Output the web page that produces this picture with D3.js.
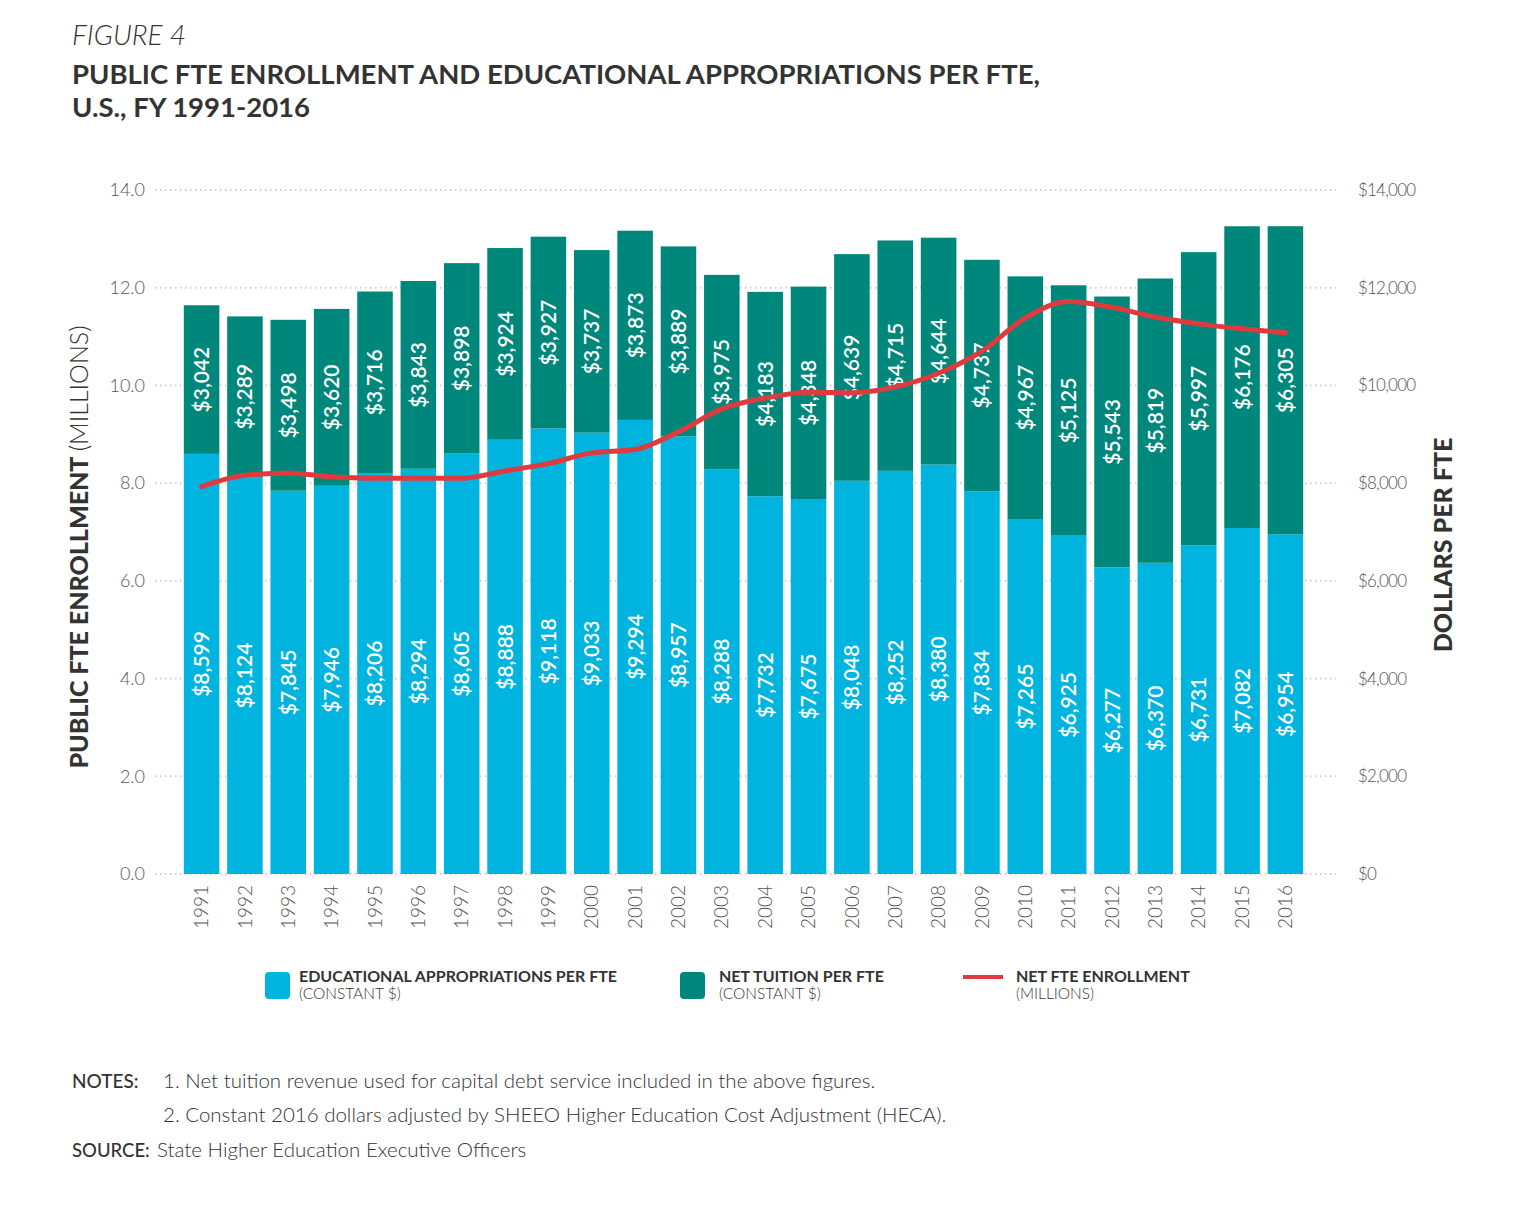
<!DOCTYPE html>
<html>
<head>
<meta charset="utf-8">
<script src="https://cdn.jsdelivr.net/npm/d3@7"></script>
<style>
  body { margin: 0; background: #fff; }
  svg { font-family: Lato, "Open Sans", sans-serif; display: block; }
</style>
</head>
<body>
<div id="chart"></div>
<script>
// chart data
var years = ["1991","1992","1993","1994","1995","1996","1997","1998","1999","2000","2001","2002","2003",
             "2004","2005","2006","2007","2008","2009","2010","2011","2012","2013","2014","2015","2016"];
var appropriations = [8599, 8124, 7845, 7946, 8206, 8294, 8605, 8888, 9118, 9033, 9294, 8957, 8288,
                      7732, 7675, 8048, 8252, 8380, 7834, 7265, 6925, 6277, 6370, 6731, 7082, 6954];
var tuition = [3042, 3289, 3498, 3620, 3716, 3843, 3898, 3924, 3927, 3737, 3873, 3889, 3975,
               4183, 4348, 4639, 4715, 4644, 4737, 4967, 5125, 5543, 5819, 5997, 6176, 6305];
var enrollment = [7.93, 8.16, 8.21, 8.13, 8.1, 8.1, 8.1, 8.25, 8.4, 8.62, 8.69, 9.05, 9.52,
                  9.74, 9.86, 9.85, 9.97, 10.25, 10.7, 11.38, 11.72, 11.6, 11.4, 11.26, 11.16, 11.08];
var leftTicks = [0, 2, 4, 6, 8, 10, 12, 14];
var rightTicks = [0, 2000, 4000, 6000, 8000, 10000, 12000, 14000];

var colors = { approp: "#00b4e0", tuition: "#00877b", line: "#e03a3e", text: "#333", tick: "#555" };

var width = 1537, height = 1232;
var svg = d3.select("#chart").append("svg")
    .attr("width", width)
    .attr("height", height);

// title block
svg.append("text")
    .attr("x", 72).attr("y", 45)
    .attr("font-size", 28).attr("font-style", "italic").attr("font-weight", 300)
    .attr("fill", colors.text)
    .text("FIGURE 4");
svg.append("text")
    .attr("x", 72).attr("y", 84)
    .attr("font-size", 27.5).attr("font-weight", 700)
    .attr("fill", colors.text)
    .text("PUBLIC FTE ENROLLMENT AND EDUCATIONAL APPROPRIATIONS PER FTE,");
svg.append("text")
    .attr("x", 72).attr("y", 117)
    .attr("font-size", 27.5).attr("font-weight", 700)
    .attr("fill", colors.text)
    .text("U.S., FY 1991-2016");

// scales
var x = d3.scaleBand()
    .domain(years)
    .range([176, 1311])
    .padding(0.18);
var yLeft = d3.scaleLinear().domain([0, 14]).range([874, 190]);
var yRight = d3.scaleLinear().domain([0, 14000]).range([874, 190]);

// dotted gridlines
svg.append("g")
    .selectAll("line")
    .data(leftTicks)
    .enter().append("line")
    .attr("x1", 155).attr("x2", 1336)
    .attr("y1", d => yLeft(d)).attr("y2", d => yLeft(d))
    .attr("stroke", "#cfcfcf")
    .attr("stroke-width", 2)
    .attr("stroke-dasharray", "1.5,3.5");

// left axis
var leftAxis = svg.append("g")
    .attr("transform", "translate(149,0)")
    .call(d3.axisLeft(yLeft).tickValues(leftTicks).tickFormat(d3.format(".1f")).tickSize(0).tickPadding(4));
leftAxis.select(".domain").remove();
leftAxis.selectAll("text")
    .attr("font-family", "Lato, sans-serif")
    .attr("font-size", 18).attr("font-weight", 300)
    .attr("fill", colors.tick);

// right axis
var rightAxis = svg.append("g")
    .attr("transform", "translate(1354,0)")
    .call(d3.axisRight(yRight).tickValues(rightTicks).tickFormat(d => "$" + d3.format(",")(d)).tickSize(0).tickPadding(4));
rightAxis.select(".domain").remove();
rightAxis.selectAll("text")
    .attr("font-family", "Lato, sans-serif")
    .attr("font-size", 17).attr("font-weight", 300)
    .attr("letter-spacing", -0.8)
    .attr("fill", colors.tick);

// stacked bars
var rows = years.map((yr, i) => ({ year: yr, approp: appropriations[i], tuition: tuition[i] }));
var stacked = d3.stack().keys(["approp", "tuition"])(rows);

var layers = svg.append("g")
    .selectAll("g")
    .data(stacked)
    .enter().append("g")
    .attr("fill", d => colors[d.key]);

layers.selectAll("rect")
    .data(d => d)
    .enter().append("rect")
    .attr("x", d => x(d.data.year))
    .attr("width", x.bandwidth())
    .attr("y", d => yRight(d[1]))
    .attr("height", d => yRight(d[0]) - yRight(d[1]));

// bar labels
layers.selectAll("text")
    .data(d => d)
    .enter().append("text")
    .attr("transform", d => `translate(${x(d.data.year) + x.bandwidth() / 2 + 7.5}, ${(yRight(d[0]) + yRight(d[1])) / 2}) rotate(-90)`)
    .attr("text-anchor", "middle")
    .attr("font-size", 21).attr("font-weight", 600)
    .attr("fill", "#fff")
    .text(d => "$" + d3.format(",")(d[1] - d[0]));

// enrollment line
var line = d3.line()
    .x((d, i) => x(years[i]) + x.bandwidth() / 2)
    .y(d => yLeft(d))
    .curve(d3.curveMonotoneX);
svg.append("path")
    .datum(enrollment)
    .attr("d", line)
    .attr("fill", "none")
    .attr("stroke", colors.line)
    .attr("stroke-width", 5)
    .attr("stroke-linejoin", "round")
    .attr("stroke-linecap", "round");

// x axis (year labels)
var xAxis = svg.append("g")
    .attr("transform", "translate(0,880)")
    .call(d3.axisBottom(x).tickSize(0).tickPadding(0));
xAxis.select(".domain").remove();
xAxis.selectAll("text")
    .attr("font-family", "Lato, sans-serif")
    .attr("font-size", 19).attr("font-weight", 300)
    .attr("fill", colors.tick)
    .attr("text-anchor", "end")
    .attr("dy", "0.35em")
    .attr("transform", "translate(0,5) rotate(-90)");

// axis titles
var leftTitle = svg.append("text")
    .attr("transform", "translate(88,547) rotate(-90)")
    .attr("text-anchor", "middle")
    .attr("font-size", 25)
    .attr("fill", colors.text);
leftTitle.append("tspan").attr("font-weight", 900).text("PUBLIC FTE ENROLLMENT ");
leftTitle.append("tspan").attr("font-weight", 300).text("(MILLIONS)");

svg.append("text")
    .attr("transform", "translate(1452,545) rotate(-90)")
    .attr("text-anchor", "middle")
    .attr("font-size", 25).attr("font-weight", 900)
    .attr("fill", colors.text)
    .text("DOLLARS PER FTE");

// legend
var legendItems = [
    { x: 265, title: "EDUCATIONAL APPROPRIATIONS PER FTE", sub: "(CONSTANT $)", kind: "rect", color: colors.approp, tx: 299 },
    { x: 680, title: "NET TUITION PER FTE", sub: "(CONSTANT $)", kind: "rect", color: colors.tuition, tx: 719 },
    { x: 963, title: "NET FTE ENROLLMENT", sub: "(MILLIONS)", kind: "line", color: colors.line, tx: 1016 }
];
var legend = svg.append("g");
legendItems.forEach(item => {
    if (item.kind === "rect") {
        legend.append("rect")
            .attr("x", item.x).attr("y", 972)
            .attr("width", 25).attr("height", 27)
            .attr("rx", 4)
            .attr("fill", item.color);
    } else {
        legend.append("line")
            .attr("x1", item.x).attr("x2", item.x + 40)
            .attr("y1", 977).attr("y2", 977)
            .attr("stroke", item.color)
            .attr("stroke-width", 4);
    }
    legend.append("text")
        .attr("x", item.tx).attr("y", 982)
        .attr("font-size", 16).attr("font-weight", 700)
        .attr("fill", colors.text)
        .text(item.title);
    legend.append("text")
        .attr("x", item.tx).attr("y", 999)
        .attr("font-size", 15.5).attr("font-weight", 300)
        .attr("fill", colors.text)
        .text(item.sub);
});

// notes and source
var notes = svg.append("g").attr("fill", colors.text);
notes.append("text").attr("x", 72).attr("y", 1088).attr("font-size", 19).attr("font-weight", 500).text("NOTES:");
notes.append("text").attr("x", 163).attr("y", 1088).attr("font-size", 20.5).attr("font-weight", 300)
    .text("1. Net tuition revenue used for capital debt service included in the above figures.");
notes.append("text").attr("x", 163).attr("y", 1122).attr("font-size", 20.5).attr("font-weight", 300)
    .text("2. Constant 2016 dollars adjusted by SHEEO Higher Education Cost Adjustment (HECA).");
notes.append("text").attr("x", 72).attr("y", 1157).attr("font-size", 18.5).attr("font-weight", 500).text("SOURCE:");
notes.append("text").attr("x", 157).attr("y", 1157).attr("font-size", 20.5).attr("font-weight", 300)
    .text("State Higher Education Executive Officers");
</script>
</body>
</html>
